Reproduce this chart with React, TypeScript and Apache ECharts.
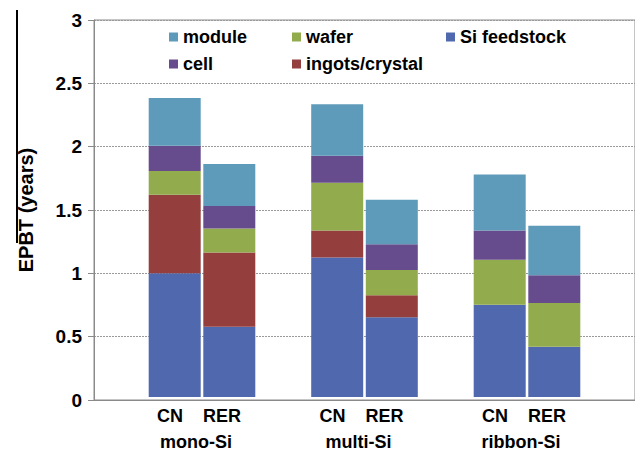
import React, { useEffect, useRef } from "react";
import * as echarts from "echarts";

const technologies = ["mono-Si", "multi-Si", "ribbon-Si"];
const gridNames = ["CN", "RER"];
const componentNames = ["Si feedstock", "ingots/crystal", "wafer", "cell", "module"];
const componentColors = ["#5068AD", "#943F3E", "#92AC4D", "#664B8D", "#5E9BBA"];

const siFeedstockCN = [0.985, 1.11, 0.735];
const siFeedstockRER = [0.56, 0.635, 0.40];
const ingotsCN = [0.624, 0.215, 0];
const ingotsRER = [0.59, 0.175, 0];
const waferCN = [0.19, 0.38, 0.358];
const waferRER = [0.19, 0.20, 0.348];
const cellCN = [0.20, 0.215, 0.232];
const cellRER = [0.18, 0.205, 0.221];
const moduleCN = [0.38, 0.41, 0.445];
const moduleRER = [0.335, 0.355, 0.393];

const yTicks = [0, 0.5, 1, 1.5, 2, 2.5, 3];

const cnValues = [siFeedstockCN, ingotsCN, waferCN, cellCN, moduleCN];
const rerValues = [siFeedstockRER, ingotsRER, waferRER, cellRER, moduleRER];

export default function App() {
  const ref = useRef<HTMLDivElement>(null);
  useEffect(() => {
    if (!ref.current) return;
    const chart = echarts.init(ref.current, undefined, { renderer: "svg" });
    const font = "'Liberation Sans', Arial, sans-serif";
    const series: any[] = [];
    componentNames.forEach((name, i) => {
      series.push({
        name,
        type: "bar",
        stack: "CN",
        xAxisIndex: 1,
        yAxisIndex: 1,
        barWidth: 52,
        barGap: "5%",
        itemStyle: { color: componentColors[i] },
        data: cnValues[i],
      });
    });
    componentNames.forEach((name, i) => {
      series.push({
        name,
        type: "bar",
        stack: "RER",
        xAxisIndex: 1,
        yAxisIndex: 1,
        barWidth: 52,
        barGap: "5%",
        itemStyle: { color: componentColors[i] },
        data: rerValues[i],
      });
    });
    const legendText = { fontFamily: font, fontWeight: "bold", fontSize: 18, color: "#000", lineHeight: 20 };
    const legendBase = { top: 22, orient: "vertical", itemWidth: 9, itemHeight: 9, itemGap: 7, icon: "rect", textStyle: legendText, selectedMode: false };
    chart.setOption({
      animation: false,
      backgroundColor: "#fff",
      textStyle: { fontFamily: font },
      grid: [
        { left: 94, right: 8, top: 20, bottom: 51, show: true, borderColor: "#8a8a8a", borderWidth: 1, backgroundColor: "transparent" },
        { left: 120.75, right: 34.75, top: 20, bottom: 51 },
      ],
      legend: [
        { ...legendBase, left: 164, data: ["module", "cell"] },
        { ...legendBase, left: 287, data: ["wafer", "ingots/crystal"] },
        { ...legendBase, left: 441, data: ["Si feedstock"] },
      ],
      xAxis: [
        {
          type: "category",
          gridIndex: 0,
          data: technologies,
          axisLine: { show: true, lineStyle: { color: "#8a8a8a" } },
          axisTick: { show: false },
          axisLabel: { show: false },
        },
        {
          type: "category",
          gridIndex: 1,
          data: technologies,
          axisLine: { show: false },
          axisTick: { show: false },
          axisLabel: {
            margin: 6,
            formatter: (v: string) => `{a|${gridNames[0]}}{b|${gridNames[1]}}{s|}\n{g|${v}}{s|}`,
            rich: {
              a: { width: 52, align: "center", fontSize: 18, fontWeight: "bold", color: "#000", fontFamily: font, lineHeight: 26 },
              b: { width: 52, align: "center", fontSize: 18, fontWeight: "bold", color: "#000", fontFamily: font, lineHeight: 26 },
              g: { width: 104, align: "center", fontSize: 18, fontWeight: "bold", color: "#000", fontFamily: font, lineHeight: 26 },
              s: { width: 12, fontSize: 18, lineHeight: 26 },
            },
          },
        },
      ],
      yAxis: [
        {
          type: "value",
          gridIndex: 0,
          min: 0,
          max: 3,
          interval: 0.5,
          name: "EPBT (years)",
          nameLocation: "middle",
          nameGap: 58,
          nameRotate: 90,
          nameTextStyle: { fontFamily: font, fontWeight: "bold", fontSize: 20, color: "#000" },
          axisLine: { show: true, lineStyle: { color: "#8a8a8a" } },
          axisTick: { show: true, length: 6, lineStyle: { color: "#8a8a8a" } },
          axisLabel: {
            margin: 12,
            fontFamily: font,
            fontWeight: "bold",
            fontSize: 19,
            color: "#000",
            formatter: (v: number) => (yTicks.includes(v) ? String(v) : ""),
          },
          splitLine: { show: true, lineStyle: { color: "#9a9a9a", type: [2, 1], width: 1 } },
        },
        {
          type: "value",
          gridIndex: 1,
          min: 0,
          max: 3,
          interval: 0.5,
          show: false,
          splitLine: { show: false },
        },
      ],
      graphic: [
        { type: "rect", left: 16, top: 10, z: 100, shape: { width: 2, height: 233 }, style: { fill: "#000" } },
      ],
      series,
    });
    return () => chart.dispose();
  }, []);
  return <div ref={ref} style={{ width: 643, height: 451, marginLeft: -8, marginTop: -8 }} />;
}
